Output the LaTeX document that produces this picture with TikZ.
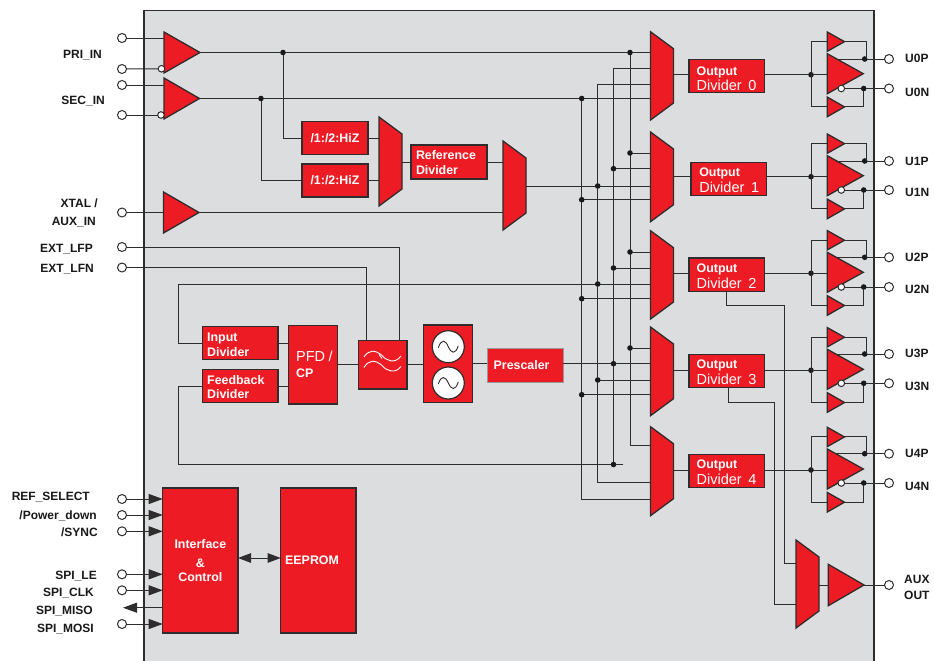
\documentclass[tikz,border=0pt]{standalone}
\usepackage{fontspec}
\setmainfont{Liberation Sans}
\usetikzlibrary{arrows.meta,calc}
\definecolor{icred}{HTML}{ED1C24}
\definecolor{panelgray}{HTML}{DCDDDF}
\definecolor{ink}{HTML}{2E2C2D}
\newcommand\bt{\fontsize{12.4}{15}\selectfont\bfseries}
\newcommand\rt{\fontsize{14.5}{15}\selectfont\mdseries}
\newcommand\lbl{\fontsize{12}{14}\selectfont\bfseries}
\newcommand\upstrut[1]{\rule{0pt}{#1pt}}
\tikzset{
  wire/.style={draw=ink,line width=0.95pt,line cap=rect},
  pinring/.style={circle,draw=ink,fill=white,line width=1pt,inner sep=0pt,minimum size=9pt,outer sep=0pt},
  bubble/.style={circle,draw=ink,fill=white,line width=1pt,inner sep=0pt,minimum size=6.6pt,outer sep=0pt},
  jdot/.style={circle,fill=black!90,inner sep=0pt,minimum size=5.6pt,outer sep=0pt},
  shapefill/.style={fill=icred,draw=ink,line width=1.3pt,line join=miter},
  pinlabel/.style={font=\lbl,text=black!90,inner sep=0pt,text height=8.6pt,text depth=0pt},
  bigarrow/.style={-{Triangle[length=14pt,width=10pt]},wire},
  bothway/.style={{Triangle[length=13pt,width=9.5pt]}-{Triangle[length=13pt,width=9.5pt]},wire},
  osc/.style={circle,draw=ink,fill=white,line width=1.2pt,inner sep=0pt,minimum size=32pt,outer sep=0pt},
}
% name, x1, y1, x2, y2 : hidden box with a triangle pointing right
\newcommand\trinode[5]{%
  \pgfmathsetmacro\ww{(#4)-(#2)}\pgfmathsetmacro\hh{(#5)-(#3)}%
  \node[inner sep=0pt,outer sep=0pt,minimum width=\ww pt,minimum height=\hh pt,anchor=north west] (#1) at (#2,#3) {};
  \path[shapefill] (#1.north west) -- (#1.east) -- (#1.south west) -- cycle;
}
% name, x1, y1, x2, y2 : hidden box with a mux trapezoid
\newcommand\muxnode[5]{%
  \pgfmathsetmacro\ww{(#4)-(#2)}\pgfmathsetmacro\hh{(#5)-(#3)}%
  \node[inner sep=0pt,outer sep=0pt,minimum width=\ww pt,minimum height=\hh pt,anchor=north west] (#1) at (#2,#3) {};
  \path[shapefill] (#1.north west) -- ([yshift=-17pt]#1.north east) -- ([yshift=17pt]#1.south east) -- (#1.south west) -- cycle;
}
% [align], name, x1, y1, x2, y2, xsep, text
\newcommand\blk[8][left]{%
  \pgfmathsetmacro\ww{(#5)-(#3)}\pgfmathsetmacro\hh{(#6)-(#4)}\pgfmathsetmacro\tw{\ww-2*(#7)}%
  \node[shapefill,inner ysep=0pt,inner xsep=#7pt,outer sep=0pt,text=white,text width=\tw pt,align=#1,minimum height=\hh pt,anchor=north west] (#2) at (#3,#4) {#8};
}
\begin{document}
\begin{tikzpicture}[x=1pt,y=-1pt]
\useasboundingbox (0,0) rectangle (934,661);
\fill[white] (0,0) rectangle (934,661);
\path[fill=panelgray,draw=ink,line width=1.1pt] (144,10.5) rectangle (874,664);

% pins, left side
\node[pinring] (pri1) at (122,38) {};
\node[pinring] (pri2) at (122,69) {};
\node[pinring] (sec1) at (122,85) {};
\node[pinring] (sec2) at (122,115) {};
\node[pinring] (xtal) at (122,212.5) {};
\node[pinring] (lfp) at (122,247) {};
\node[pinring] (lfn) at (122,267.5) {};
\node[pinring] (refsel) at (122,499) {};
\node[pinring] (pwd) at (122,515) {};
\node[pinring] (sync) at (122,531.3) {};
\node[pinring] (le) at (122,574.3) {};
\node[pinring] (clk) at (122,590.3) {};
\node[pinring] (mosi) at (122,624) {};
\coordinate (miso) at (123,607.7);

% labels, left side
\node[pinlabel,anchor=east] (tpri) at (102,54.5) {PRI\_IN};
\node[pinlabel,anchor=east] (tsec) at (105,99.7) {SEC\_IN};
\node[pinlabel,anchor=east] (txtal) at (98,203) {XTAL /};
\node[pinlabel,anchor=east] (taux) at (96,221) {AUX\_IN};
\node[pinlabel,anchor=east] (tlfp) at (93,248) {EXT\_LFP};
\node[pinlabel,anchor=east] (tlfn) at (94,268) {EXT\_LFN};
\node[pinlabel,anchor=east] (tref) at (90,496.5) {REF\_SELECT};
\node[pinlabel,anchor=east] (tpwd) at (97,515) {/Power\_down};
\node[pinlabel,anchor=east] (tsync) at (98,532.5) {/SYNC};
\node[pinlabel,anchor=east] (tle) at (97,575) {SPI\_LE};
\node[pinlabel,anchor=east] (tclk) at (94,592) {SPI\_CLK};
\node[pinlabel,anchor=east] (tmiso) at (93,610.5) {SPI\_MISO};
\node[pinlabel,anchor=east] (tmosi) at (94,628.5) {SPI\_MOSI};

% input buffers
\trinode{bpri}{164}{32}{200}{73}
\trinode{bsec}{164}{78}{199.5}{119}
\trinode{bxtal}{163.5}{192}{199}{233}
\node[bubble] (npri) at (161.5,68.8) {};
\node[bubble] (nsec) at (161,115) {};

% reference path
\blk[center]{hz1}{302}{121.5}{368}{154.5}{0}{\bt /1:/2:HiZ}
\blk[center]{hz2}{302}{164}{368}{197}{0}{\bt /1:/2:HiZ}
\muxnode{mhz}{379}{117}{402}{206}
\blk{refdiv}{411}{145}{487}{179}{5}{\bt\upstrut{11}Reference\\[3pt]Divider}
\muxnode{mref}{503}{141}{526}{230}

% PLL
\blk{indiv}{202.6}{326.7}{278}{359.5}{4.6}{\bt\upstrut{11}Input\\[3pt]Divider}
\blk{fbdiv}{202.6}{369.7}{278}{402.7}{4.6}{\bt\upstrut{11}Feedback\\[2pt]Divider}
\blk{pfd}{288.7}{325.7}{337.3}{404}{7.5}{\rt \mbox{PFD /}\\[4pt]\bt CP\rule[-2pt]{0pt}{2pt}}
\blk{filt}{358.3}{340.3}{407}{389}{0}{}
\blk{vco}{423.7}{325}{472.3}{402.7}{0}{}
\node[osc] (osca) at (448.3,346.7) {};
\node[osc] (oscb) at (448.3,383) {};
\node[shapefill,draw=black!40,line width=0.9pt,inner ysep=0pt,inner xsep=6.7pt,outer sep=0pt,text=white,text width=62.6pt,align=left,minimum height=33.7pt,anchor=north west] (presc) at (487,348.3) {\bt Prescaler};

\begin{scope}[shift={(383,364.5)},draw=white,line width=0.9pt]
  \draw (-19,-7.5) .. controls (-14,-15) and (-8,-15) .. (-1,-9) .. controls (3,-4) and (12,0) .. (18,-8.5);
  \draw (-19,3) .. controls (-14,-5) and (-8,-5) .. (-1,1) .. controls (3,6) and (12,10) .. (18,2);
  \draw (-4,-10) -- (-1,-6);
\end{scope}
\foreach \oc in {osca,oscb}
  \draw[draw=ink,line width=0.9pt] ($(\oc)+(-10,1)$) .. controls ($(\oc)+(-7,-8)$) and ($(\oc)+(-3,-7)$) .. (\oc.center) .. controls ($(\oc)+(3,7)$) and ($(\oc)+(7,8)$) .. ($(\oc)+(10,-1)$);

% output muxes and dividers
\muxnode{m0}{650.5}{31.7}{673.5}{120}
\muxnode{m1}{650.5}{132}{673.5}{221.7}
\muxnode{m2}{650.5}{230.7}{673.5}{319}
\muxnode{m3}{650.5}{327}{673.5}{415.7}
\muxnode{m4}{650.5}{426.7}{673.5}{515.7}
\blk{d0}{689}{59.3}{764.7}{92.7}{7.7}{\bt\upstrut{14}Output\\[1pt]\rt \mbox{Divider\ \ 0}}
\blk{d1}{691}{162.3}{766.7}{195.3}{8.3}{\bt\upstrut{11}Output\\[2pt]\rt \mbox{Divider\ \ 1}}
\blk{d2}{689}{258}{764.7}{291.3}{7.7}{\bt\upstrut{11}Output\\[2pt]\rt \mbox{Divider\ \ 2}}
\blk{d3}{689}{354.7}{764.7}{387.7}{7.7}{\bt\upstrut{11}Output\\[2pt]\rt \mbox{Divider\ \ 3}}
\blk{d4}{689}{454.7}{764.7}{487.7}{7.7}{\bt\upstrut{11}Output\\[2pt]\rt \mbox{Divider\ \ 4}}

% control block
\blk[center]{ctrl}{162.7}{488}{238}{633}{0}{\bt Interface\\[4pt]\&\\[2.5pt]Control}
\blk{eeprom}{280.7}{488}{356}{633}{4.5}{\bt\raisebox{-1.5pt}{EEPROM}}

% bus junctions
\node[jdot] (a0) at (630,52.5) {};
\node[jdot] (a1) at (630,153) {};
\node[jdot] (a2) at (630,252) {};
\node[jdot] (a3) at (630,348) {};
\coordinate (a4) at (630,445);
\coordinate (b0) at (613.5,68);
\node[jdot] (b1) at (613.5,168.7) {};
\node[jdot] (b2) at (613.5,268) {};
\node[jdot] (b3) at (613.5,363.7) {};
\node[jdot] (b4) at (613.5,464.5) {};
\coordinate (c0) at (597.7,84.7);
\node[jdot] (c1) at (597.7,186) {};
\node[jdot] (c2) at (597.7,284) {};
\node[jdot] (c3) at (597.7,380) {};
\coordinate (c4) at (597.7,482.7);
\node[jdot] (e0) at (581.7,98.5) {};
\node[jdot] (e1) at (581.7,199.7) {};
\node[jdot] (e2) at (581.7,298.7) {};
\node[jdot] (e3) at (581.7,394.7) {};
\coordinate (e4) at (581.7,499);
\node[jdot] (jpri) at (283,52.5) {};
\node[jdot] (jsec) at (261,98.5) {};

% wires: inputs
\draw[wire] (pri1) -- (pri1 -| bpri.west);
\draw[wire] (pri2) -- (npri);
\draw[wire] (sec1) -- (sec1 -| bsec.west);
\draw[wire] (sec2) -- (nsec);
\draw[wire] (xtal) -- (bxtal.west);
\draw[wire] (bpri.east) -- (jpri) -- (a0) -- (a0 -| m0.west);
\draw[wire] (bsec.east) -- (jsec) -- (e0) -- (e0 -| m0.west);
\draw[wire] (jpri) |- (hz1.west);
\draw[wire] (jsec) |- (hz2.west);
\draw[wire] (hz1.east) -- (hz1.east -| mhz.west);
\draw[wire] (hz2.east) -- (hz2.east -| mhz.west);
\draw[wire] (mhz.east |- refdiv.west) -- (refdiv.west);
\draw[wire] (refdiv.east) -- (refdiv.east -| mref.west);
\draw[wire] (bxtal.east) -- (bxtal.east -| mref.west);
\draw[wire] (mref.east |- c1) -- (c1) -- (c1 -| m1.west);

% wires: buses
\draw[wire] (a0) -- (a1) -- (a2) -- (a3) -- (a4) -- (a4 -| m4.west);
\draw[wire] (b0 -| m0.west) -- (b0) -- (b1) -- (b2) -- (b3) -- (b4);
\draw[wire] (c0 -| m0.west) -- (c0) -- (c1) -- (c2) -- (c3) -- (c4) -- (c4 -| m4.west);
\draw[wire] (e0) -- (e1) -- (e2) -- (e3) -- (e4) -- (e4 -| m4.west);
\foreach \pt/\mm in {a1/m1,b1/m1,e1/m1,a2/m2,b2/m2,c2/m2,e2/m2,a3/m3,b3/m3,c3/m3,e3/m3}
  \draw[wire] (\pt) -- (\pt -| \mm.west);

% wires: PLL
\coordinate (lfpc) at (399,247);
\coordinate (lfnc) at (366.7,267.5);
\draw[wire] (lfp) -- (lfpc) -- (lfpc |- filt.north);
\draw[wire] (lfn) -- (lfnc) -- (lfnc |- filt.north);
\coordinate (fbl) at (178.3,284);
\coordinate (fbm) at (178.3,464.5);
\draw[wire] (c2) -- (fbl) |- (indiv.west);
\coordinate (fbr) at (623,464.5);
\draw[wire] (fbr) -- (b4) -- (fbm) |- (fbdiv.west);
\draw[wire] (indiv.east) -- (indiv.east -| pfd.west);
\draw[wire] (fbdiv.east) -- (fbdiv.east -| pfd.west);
\draw[wire] (pfd.east |- filt.west) -- (filt.west);
\draw[wire] (filt.east) -- (filt.east -| vco.west);
\draw[wire] (vco.east |- b3) -- (presc.west |- b3);
\draw[wire] (presc.east |- b3) -- (b3);

% control wires
\draw[bigarrow] (refsel) -- (refsel -| ctrl.west);
\draw[bigarrow] (pwd) -- (pwd -| ctrl.west);
\draw[bigarrow] (sync) -- (sync -| ctrl.west);
\draw[bigarrow] (le) -- (le -| ctrl.west);
\draw[bigarrow] (clk) -- (clk -| ctrl.west);
\draw[bigarrow] (mosi) -- (mosi -| ctrl.west);
\draw[bigarrow] (miso -| ctrl.west) -- (miso);
\coordinate (eey) at (260,558);
\draw[bothway] (eey -| ctrl.east) -- (eey -| eeprom.west);

% output stages
\foreach \nn/\cy/\py/\ny/\lp/\ln in {0/74.7/59/88.5/58.3/91.7,1/176.7/161/190/160.7/192,2/273.3/257.3/287/256.7/289,3/370.3/354/383.3/353/386,4/470/453.7/483/453/486}{
  \pgfmathsetmacro\tta{\cy-42.7}\pgfmathsetmacro\ttb{\cy-23.4}
  \pgfmathsetmacro\bba{\cy-21}\pgfmathsetmacro\bbb{\cy+19}
  \pgfmathsetmacro\lla{\cy+22.4}\pgfmathsetmacro\llb{\cy+42}
  \trinode{tu\nn}{827.3}{\tta}{844.5}{\ttb}
  \trinode{lu\nn}{827.3}{\lla}{844.5}{\llb}
  \trinode{bu\nn}{827.3}{\bba}{863.3}{\bbb}
  \node[bubble] (bb\nn) at (841.3,\ny) {};
  \node[jdot] (oj\nn) at (811,\cy) {};
  \node[jdot] (jp\nn) at (864.7,\py) {};
  \node[jdot] (jn\nn) at (863.7,\ny) {};
  \node[pinring] (pp\nn) at (889,\py) {};
  \node[pinring] (pn\nn) at (889,\ny) {};
  \node[pinlabel,anchor=west] (lp\nn) at (905,\lp) {U\nn P};
  \node[pinlabel,anchor=west] (ln\nn) at (905,\ln) {U\nn N};
  \coordinate (ps\nn) at (836,\py);
  \coordinate (tc\nn) at (866,\py);
  \draw[wire] (m\nn.east |- oj\nn) -- (d\nn.west |- oj\nn);
  \draw[wire] (d\nn.east |- oj\nn) -- (oj\nn) -- (oj\nn -| bu\nn.west);
  \draw[wire] (tu\nn.west) -- (tu\nn.west -| oj\nn) -- (lu\nn.west -| oj\nn) -- (lu\nn.west);
  \draw[wire] (ps\nn) -- (jp\nn) -- (pp\nn);
  \draw[wire] (bb\nn) -- (jn\nn) -- (pn\nn);
  \draw[wire] (tu\nn.east) -- (tu\nn.east -| tc\nn) -- (tc\nn);
  \draw[wire] (lu\nn.east) -- (lu\nn.east -| jn\nn) -- (jn\nn);
}

% aux output
\muxnode{maux}{796}{540}{819}{628}
\trinode{baux}{828.3}{564.3}{864}{605.7}
\node[pinring] (paux) at (889,585) {};
\node[pinlabel,anchor=west] (taux1) at (904,578.7) {AUX};
\node[pinlabel,anchor=west] (taux2) at (904,595.5) {OUT};
\draw[wire] (baux.east) -- (paux);
\draw[wire] (maux.east |- baux.west) -- (baux.west);
\coordinate (ax1) at (784.7,305.7);
\coordinate (ax2) at (784.7,563);
\coordinate (ax3) at (728.7,402.3);
\coordinate (ax4) at (774.7,402.3);
\coordinate (ax5) at (774.7,604);
\draw[wire] (d2.south) |- (ax1) -- (ax2) -- (ax2 -| maux.west);
\draw[wire] (ax3 |- d3.south) -- (ax3) -- (ax4) -- (ax5) -- (ax5 -| maux.west);
\end{tikzpicture}
\end{document}
